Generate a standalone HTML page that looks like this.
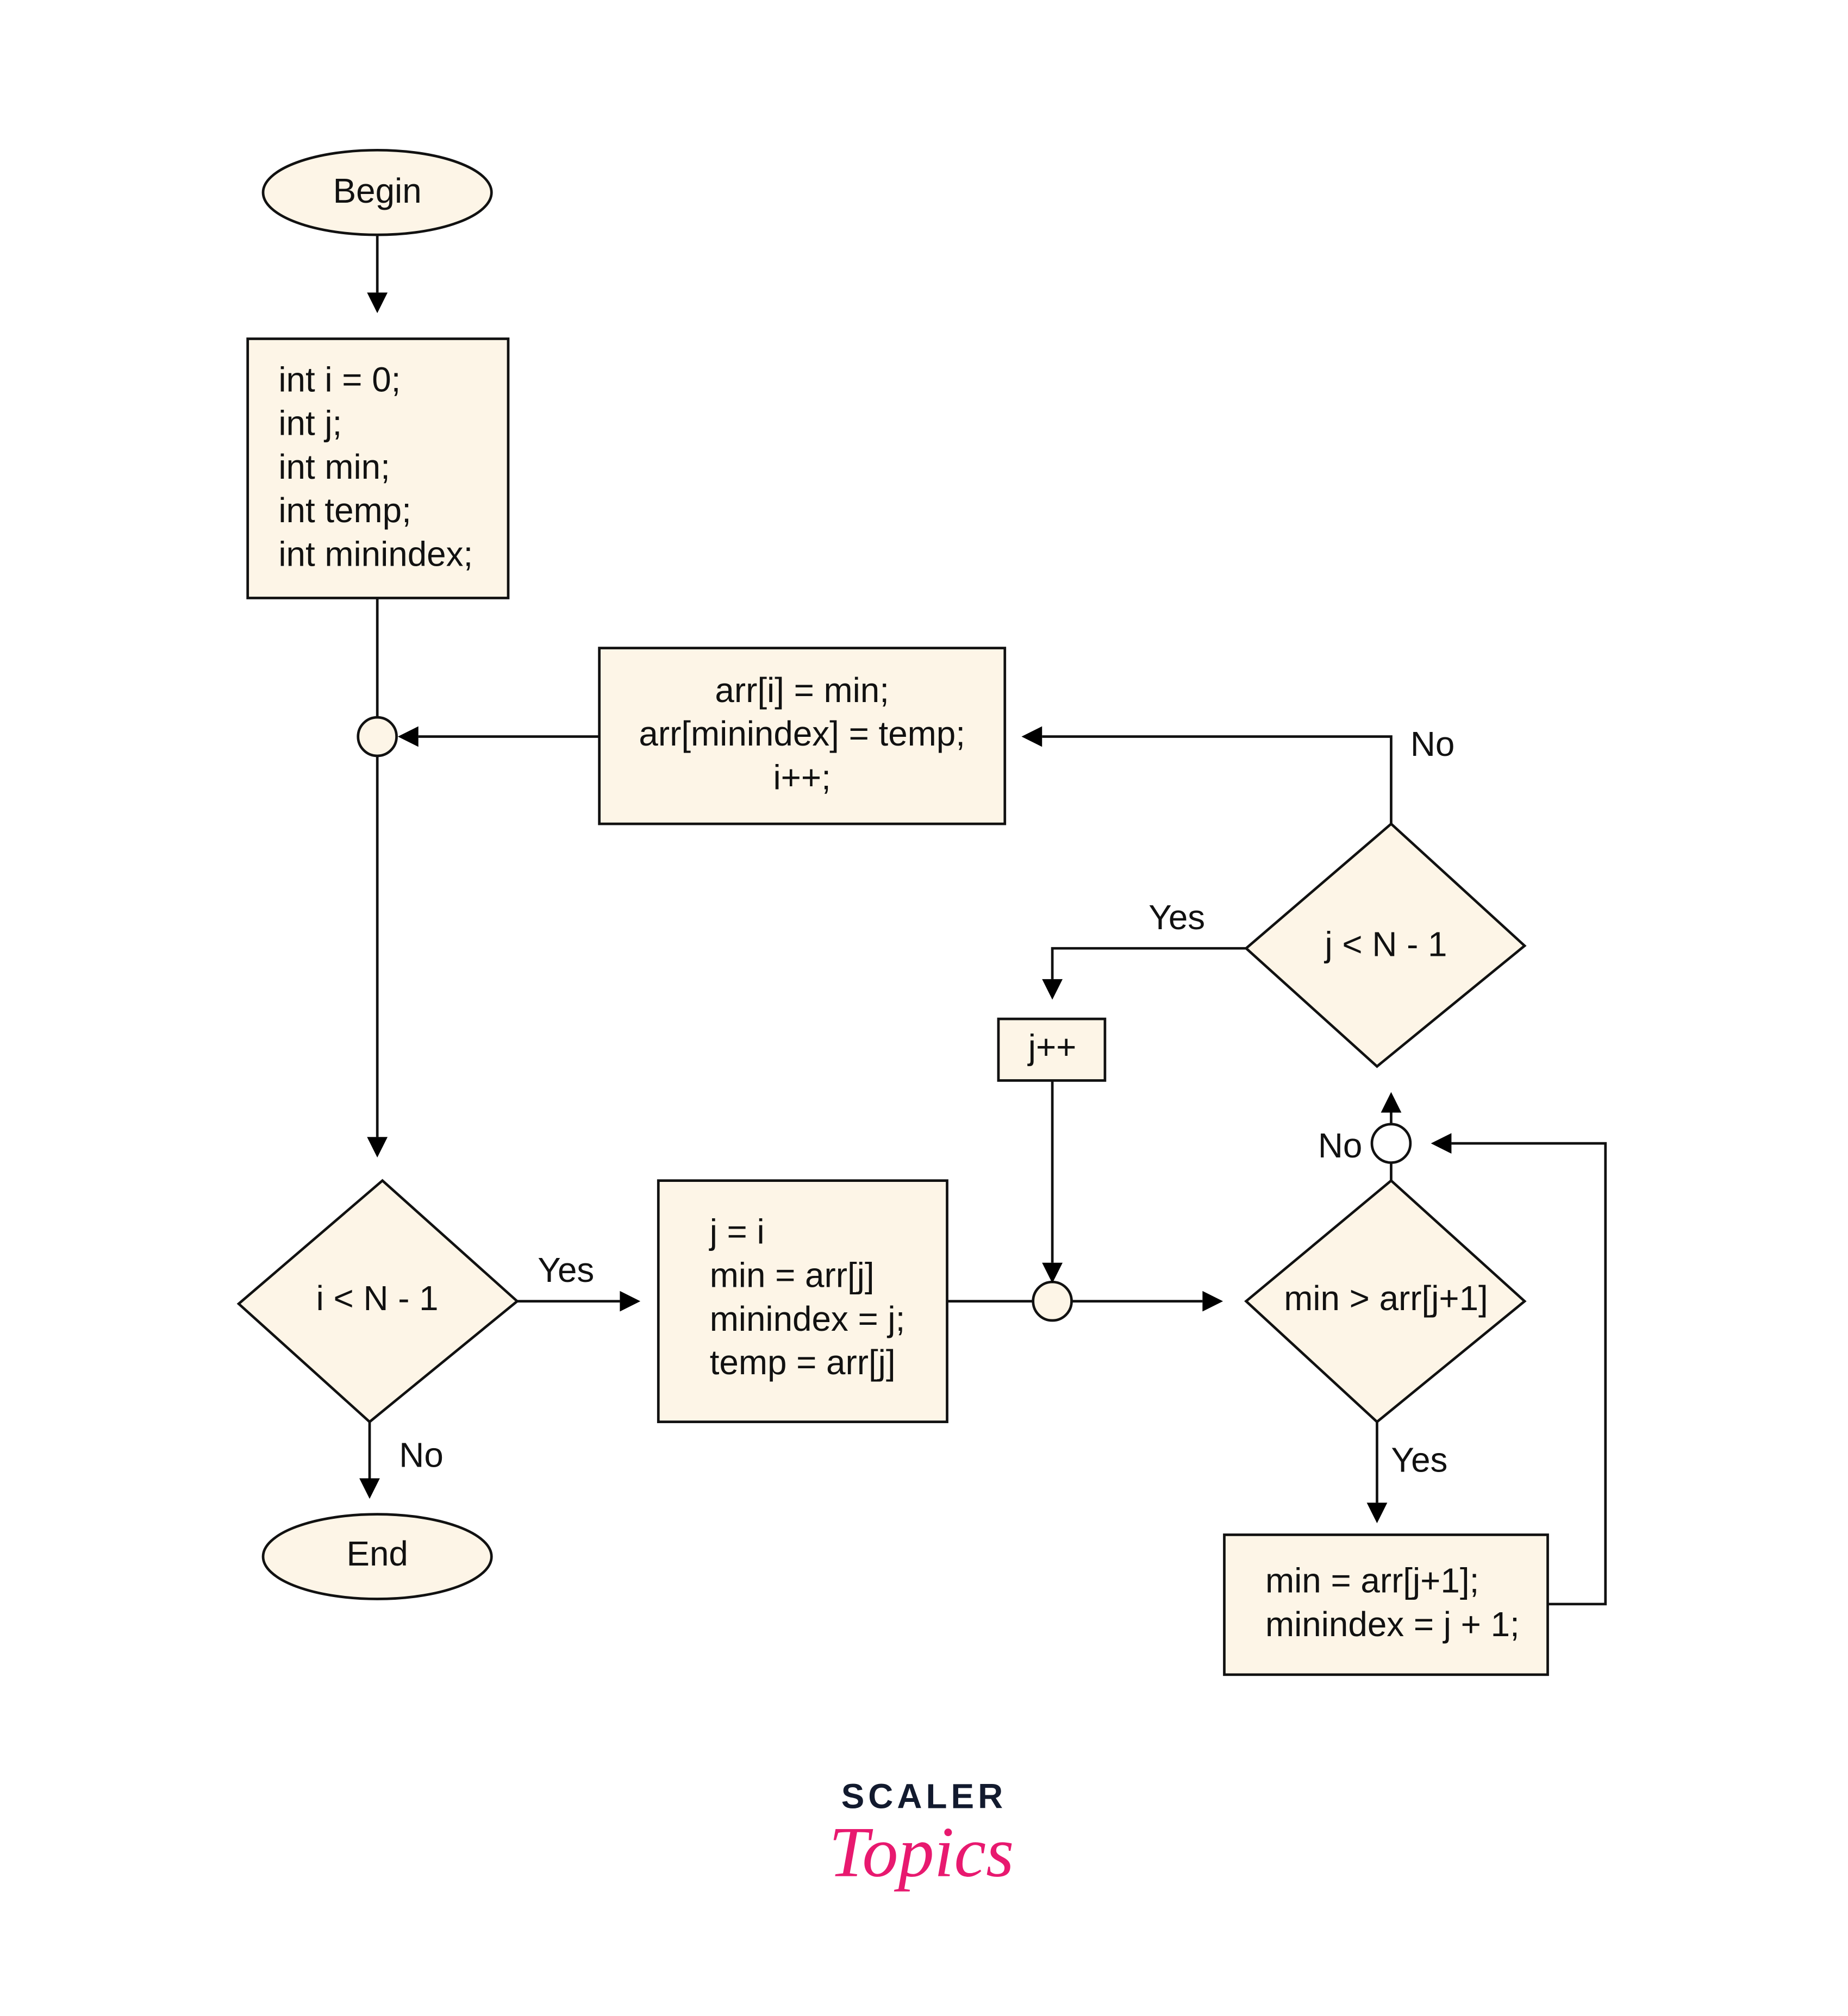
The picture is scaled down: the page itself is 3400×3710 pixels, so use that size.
<!DOCTYPE html>
<html><head><meta charset="utf-8"><style>html,body{margin:0;padding:0;background:#fff}svg{display:block}</style></head>
<body>
<svg width="3400" height="3710" viewBox="0 0 1440 1571" preserveAspectRatio="none" xmlns="http://www.w3.org/2000/svg">
<rect width="1440" height="1571" fill="#fff"/>
<g fill="#fdf5e7" stroke="#111" stroke-width="2">
<ellipse cx="294" cy="150" rx="89" ry="33"/>
<rect x="193" y="264" width="203" height="202"/>
<rect x="467" y="505" width="316" height="137"/>
<polygon points="1084,642 1188,737 1073,831 971,739"/>
<rect x="778" y="794" width="83" height="48"/>
<polygon points="298,920 403,1014 288,1108 186,1016"/>
<ellipse cx="294" cy="1213" rx="89" ry="33"/>
<rect x="513" y="920" width="225" height="188"/>
<polygon points="1084,920 1188,1014 1073,1108 971,1014"/>
<rect x="954" y="1196" width="252" height="109"/>
</g>
<g fill="none" stroke="#111" stroke-width="2">
<line x1="294" y1="184" x2="294" y2="228"/>
<line x1="294" y1="466" x2="294" y2="886"/>
<line x1="467" y1="574" x2="326" y2="574"/>
<polyline points="1084,642 1084,574 812,574"/>
<polyline points="971,739 820,739 820,763"/>
<line x1="820" y1="842" x2="820" y2="984"/>
<line x1="403" y1="1014" x2="483" y2="1014"/>
<line x1="288" y1="1108" x2="288" y2="1152"/>
<line x1="738" y1="1014" x2="937" y2="1014"/>
<line x1="1073" y1="1108" x2="1073" y2="1171"/>
<polyline points="1206,1250 1251,1250 1251,891 1131,891"/>
<line x1="1084" y1="920" x2="1084" y2="867"/>
<circle cx="294" cy="574" r="15" fill="#fdf5e7"/>
<circle cx="820" cy="1014" r="15" fill="#fdf5e7"/>
<circle cx="1084" cy="891" r="15" fill="#fff"/>
</g>
<g fill="#000">
<polygon points="286,228 302,228 294,244"/>
<polygon points="286,886 302,886 294,902"/>
<polygon points="326,566 326,582 310,574"/>
<polygon points="812,566 812,582 796,574"/>
<polygon points="812,763 828,763 820,779"/>
<polygon points="812,984 828,984 820,1000"/>
<polygon points="483,1006 483,1022 499,1014"/>
<polygon points="280,1152 296,1152 288,1168"/>
<polygon points="937,1006 937,1022 953,1014"/>
<polygon points="1065,1171 1081,1171 1073,1187"/>
<polygon points="1131,883 1131,899 1115,891"/>
<polygon points="1076,867 1092,867 1084,851"/>
</g>
<g font-family="Liberation Sans, sans-serif" font-size="27" fill="#111">
<text x="294" y="158" text-anchor="middle">Begin</text>
<text x="217" y="305">int i = 0;</text>
<text x="217" y="339">int j;</text>
<text x="217" y="373">int min;</text>
<text x="217" y="407">int temp;</text>
<text x="217" y="441">int minindex;</text>
<text x="625" y="547" text-anchor="middle">arr[i] = min;</text>
<text x="625" y="581" text-anchor="middle">arr[minindex] = temp;</text>
<text x="625" y="615" text-anchor="middle">i++;</text>
<text x="1080" y="745" text-anchor="middle">j &lt; N - 1</text>
<text x="1099" y="589">No</text>
<text x="895" y="724">Yes</text>
<text x="820" y="825" text-anchor="middle">j++</text>
<text x="294" y="1021" text-anchor="middle">i &lt; N - 1</text>
<text x="419" y="999">Yes</text>
<text x="311" y="1143">No</text>
<text x="294" y="1220" text-anchor="middle">End</text>
<text x="553" y="969">j = i</text>
<text x="553" y="1003">min = arr[j]</text>
<text x="553" y="1037">minindex = j;</text>
<text x="553" y="1071">temp = arr[j]</text>
<text x="1080" y="1021" text-anchor="middle">min &gt; arr[j+1]</text>
<text x="1084" y="1147">Yes</text>
<text x="1027" y="902">No</text>
<text x="986" y="1241">min = arr[j+1];</text>
<text x="986" y="1275">minindex = j + 1;</text>
</g>
<text x="720" y="1409" text-anchor="middle" font-family="Liberation Sans, sans-serif" font-weight="bold" font-size="27" letter-spacing="3" fill="#121a2e">SCALER</text>
<text x="718" y="1462" text-anchor="middle" font-family="Liberation Serif, serif" font-style="italic" font-size="56" fill="#e8196f">Topics</text>
</svg>
</body></html>
